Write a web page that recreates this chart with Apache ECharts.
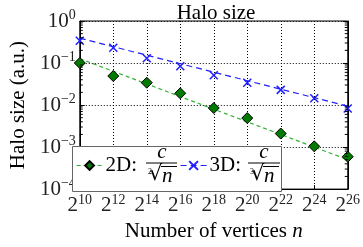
<!DOCTYPE html>
<html>
<head>
<meta charset="utf-8">
<script src="https://cdn.jsdelivr.net/npm/echarts@6/dist/echarts.min.js"></script>
<style>
  html, body { margin: 0; padding: 0; background: #fff; }
  #chart { width: 363px; height: 247px; }
</style>
</head>
<body>
<div id="chart"></div>
<script>
// exponents of n (n = 2^e)
const exps = [10, 12, 14, 16, 18, 20, 22, 24, 26];
const halo2D = [0.1, 0.049, 0.034, 0.019, 0.0085, 0.0049, 0.0021, 0.00104, 0.00059];
const halo3D = [0.34, 0.23, 0.13, 0.084, 0.051, 0.034, 0.023, 0.0145, 0.0083];
// dashed fit lines, end points only
const fitExps = [10, 26];
const fit2D = [0.127, 0.0005];
const fit3D = [0.39, 0.0094];
const yDecades = [-4, -3, -2, -1];

const serif = 'Liberation Serif';
const green = '#33b033';
const blue = '#1f1fff';

const chart = echarts.init(document.getElementById('chart'));

const pts = (es, vs) => es.map((e, i) => [Math.pow(2, e), vs[i]]);

// minor ticks for the log y axis (2..9 x 10^d)
const minorVals = [];
yDecades.forEach(d => {
  for (let k = 2; k <= 9; k++) minorVals.push([Math.pow(2, 10), k * Math.pow(10, d)]);
});

function supLabel(base, exp) {
  return '{b|' + base + '}{s|' + String(exp).replace('-', '\u2212') + '}';
}

const labelRich = {
  b: { fontFamily: serif, fontSize: 21, color: '#222' },
  s: { fontFamily: serif, fontSize: 14, color: '#222', padding: [0, 0, 11, 0] }
};

var option = {
  animation: false,
  title: {
    text: 'Halo size',
    left: 211, top: -2,
    textAlign: 'center',
    textStyle: { fontFamily: serif, fontSize: 21, fontWeight: 'normal', color: '#000' }
  },
  grid: {
    left: 72, right: 12, top: 21, bottom: 55,
    show: true, borderColor: '#000', borderWidth: 1
  },
  xAxis: [{
    type: 'log',
    logBase: 2,
    min: Math.pow(2, 10),
    max: Math.pow(2, 26),
    interval: 2,
    name: '{t|Number of vertices }{i|n}',
    nameLocation: 'middle',
    nameGap: 29,
    nameTextStyle: {
      rich: {
        t: { fontFamily: serif, fontSize: 21, color: '#000' },
        i: { fontFamily: serif, fontSize: 21, fontStyle: 'italic', color: '#000' }
      }
    },
    axisLine: { lineStyle: { color: '#000' } },
    axisTick: { inside: true, length: 4, lineStyle: { color: '#000' } },
    axisLabel: {
      margin: 4,
      formatter: v => supLabel(2, Math.round(Math.log2(v))),
      rich: labelRich
    },
    splitLine: { show: true, lineStyle: { color: '#000', type: [1, 2], width: 1 } }
  }],
  yAxis: [{
    type: 'log',
    logBase: 10,
    min: 1e-4,
    max: 1,
    name: 'Halo size (a.u.)',
    nameLocation: 'middle',
    nameGap: 50,
    nameTextStyle: { fontFamily: serif, fontSize: 21, color: '#000' },
    axisLine: { lineStyle: { color: '#000' } },
    axisTick: { inside: true, length: 5, lineStyle: { color: '#000' } },
    axisLabel: {
      margin: 4,
      formatter: v => supLabel(10, Math.round(Math.log10(v))),
      rich: labelRich
    },
    splitLine: { show: true, lineStyle: { color: '#000', type: [1, 2], width: 1 } }
  }, {
    type: 'log',
    logBase: 10,
    min: 1e-4,
    max: 1,
    position: 'right',
    axisLine: { show: true, lineStyle: { color: '#000' } },
    axisTick: { inside: true, length: 5, lineStyle: { color: '#000' } },
    axisLabel: { show: false },
    splitLine: { show: false }
  }],
  legend: [{
    left: 76, top: 155,
    itemWidth: 26, itemHeight: 11,
    padding: 0,
    data: [{
      name: '2D:',
      lineStyle: { color: green, type: [4, 3], width: 1.2, opacity: 1 }
    }],
    textStyle: { fontFamily: serif, fontSize: 21, color: '#000', padding: [0, 0, 0, -2] },
    selectedMode: false, z: 20
  }, {
    left: 180, top: 155,
    itemWidth: 26, itemHeight: 11,
    padding: 0,
    data: [{
      name: '3D:',
      lineStyle: { color: blue, type: [6, 4], width: 1.2, opacity: 1 }
    }],
    textStyle: { fontFamily: serif, fontSize: 21, color: '#000', padding: [0, 0, 0, -2] },
    selectedMode: false, z: 20
  }],
  graphic: [
    { type: 'rect', z: 10, shape: { x: 72.5, y: 146.5, width: 209, height: 45 },
      style: { fill: '#fff', stroke: '#666', lineWidth: 1 } },
    // 2D fraction
    { type: 'text', z: 11, x: 162, y: 142, style: { text: 'c', font: 'italic 21px "Liberation Serif"', fill: '#000', align: 'center' } },
    { type: 'line', z: 11, shape: { x1: 146, y1: 163, x2: 177, y2: 163 }, style: { stroke: '#000', lineWidth: 1 } },
    { type: 'text', z: 11, x: 148, y: 168, style: { text: '2', font: '8px "Liberation Serif"', fill: '#000' } },
    { type: 'text', z: 11, x: 149, y: 164, style: { text: '\u221A', font: '21px "DejaVu Serif"', fill: '#000' } },
    { type: 'line', z: 11, shape: { x1: 161, y1: 166.5, x2: 177, y2: 166.5 }, style: { stroke: '#000', lineWidth: 1 } },
    { type: 'text', z: 11, x: 162, y: 166, style: { text: 'n', font: 'italic 21px "Liberation Serif"', fill: '#000' } },
    // 3D fraction
    { type: 'text', z: 11, x: 264, y: 142, style: { text: 'c', font: 'italic 21px "Liberation Serif"', fill: '#000', align: 'center' } },
    { type: 'line', z: 11, shape: { x1: 248, y1: 163, x2: 280, y2: 163 }, style: { stroke: '#000', lineWidth: 1 } },
    { type: 'text', z: 11, x: 250, y: 168, style: { text: '3', font: '8px "Liberation Serif"', fill: '#000' } },
    { type: 'text', z: 11, x: 251, y: 164, style: { text: '\u221A', font: '21px "DejaVu Serif"', fill: '#000' } },
    { type: 'line', z: 11, shape: { x1: 263, y1: 166.5, x2: 279, y2: 166.5 }, style: { stroke: '#000', lineWidth: 1 } },
    { type: 'text', z: 11, x: 264, y: 166, style: { text: 'n', font: 'italic 21px "Liberation Serif"', fill: '#000' } }
  ],
  series: [
    {
      name: 'fit2D', type: 'line', data: pts(fitExps, fit2D),
      symbol: 'none', lineStyle: { color: green, type: [4, 3], width: 1.2 }, z: 2
    },
    {
      name: 'fit3D', type: 'line', data: pts(fitExps, fit3D),
      symbol: 'none', lineStyle: { color: blue, type: [6, 4], width: 1.2 }, z: 2
    },
    {
      name: '2D:', type: 'line', data: pts(exps, halo2D),
      symbol: 'diamond', symbolSize: 11,
      itemStyle: { color: '#007a00', borderColor: '#000', borderWidth: 1 },
      lineStyle: { opacity: 0 }, z: 3
    },
    {
      name: '3D:', type: 'line', data: pts(exps, halo3D),
      symbol: 'path://M0,0L10,10M10,0L0,10', symbolSize: 8,
      itemStyle: { color: blue, borderColor: blue, borderWidth: 1.5 },
      lineStyle: { opacity: 0 }, z: 3
    },
    {
      name: 'minor', type: 'custom', data: minorVals, silent: true, z: 4,
      renderItem: function (params, api) {
        const pL = api.coord([Math.pow(2, 10), api.value(1)]);
        const pR = api.coord([Math.pow(2, 26), api.value(1)]);
        return {
          type: 'group',
          children: [
            { type: 'line', shape: { x1: pL[0], y1: pL[1], x2: pL[0] + 3, y2: pL[1] }, style: { stroke: '#000', lineWidth: 1 } },
            { type: 'line', shape: { x1: pR[0] - 3, y1: pR[1], x2: pR[0], y2: pR[1] }, style: { stroke: '#000', lineWidth: 1 } }
          ]
        };
      }
    }
  ]
};

chart.setOption(option);
</script>
</body>
</html>
